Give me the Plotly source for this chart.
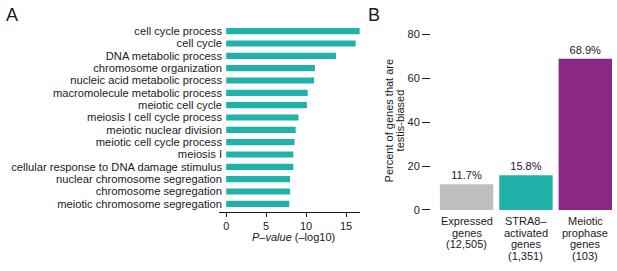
import plotly.graph_objects as go

# Panel A data
go_terms = ["cell cycle process", "cell cycle", "DNA metabolic process", "chromosome organization",
            "nucleic acid metabolic process", "macromolecule metabolic process", "meiotic cell cycle",
            "meiosis I cell cycle process", "meiotic nuclear division", "meiotic cell cycle process",
            "meiosis I", "cellular response to DNA damage stimulus", "nuclear chromosome segregation",
            "chromosome segregation", "meiotic chromosome segregation"]
neg_log_p = [16.7, 16.2, 13.75, 11.1, 11.0, 10.2, 10.1, 9.05, 8.7, 8.55, 8.4, 8.4, 8.0, 8.0, 7.9]
a_ticks = [0, 5, 10, 15]

# Panel B data
gene_sets = ["Expressed", "STRA8", "Meiotic"]
gene_set_labels = [["Expressed", "genes", "(12,505)"],
                   ["STRA8\u2013", "activated", "genes", "(1,351)"],
                   ["Meiotic", "prophase", "genes", "(103)"]]
pct_testis = [11.7, 15.8, 68.9]
b_ticks = [0, 20, 40, 60, 80]

TEAL = "#20B2A8"
bar_colors = ["#BEBEBE", TEAL, "#8A2886"]
FONT = "Liberation Sans, Arial, sans-serif"
TXT = "#1a1a1a"
W, H = 617, 271

fig = go.Figure()
fig.add_trace(go.Bar(x=neg_log_p, y=go_terms, orientation="h", marker_color=TEAL,
                     marker_line_width=0, xaxis="x", yaxis="y", width=0.5, showlegend=False))
fig.add_trace(go.Bar(x=gene_sets, y=pct_testis, marker_color=bar_colors, marker_line_width=0,
                     xaxis="x2", yaxis="y2", width=0.9, showlegend=False,
                     text=[f"{v}%" for v in pct_testis], textposition="outside",
                     textfont=dict(size=11, color=TXT, family=FONT), cliponaxis=False))

ann = []
ann.append(dict(text="A", x=4 / W, y=1 - 13 / H, xref="paper", yref="paper", xanchor="left",
                yanchor="middle", showarrow=False, font=dict(size=18, family=FONT, color=TXT)))
ann.append(dict(text="B", x=366 / W, y=1 - 13 / H, xref="paper", yref="paper", xanchor="left",
                yanchor="middle", showarrow=False, font=dict(size=18, family=FONT, color=TXT)))
ann.append(dict(text="<i>P\u2013value</i> (\u2013log10)", x=293 / W, y=1 - 242 / H, xref="paper",
                yref="paper", xanchor="center", yanchor="middle", showarrow=False,
                font=dict(size=11, family=FONT, color=TXT)))
ann.append(dict(text="Percent of genes that are", x=389 / W, y=1 - 122 / H, xref="paper",
                yref="paper", xanchor="center", yanchor="middle", showarrow=False, textangle=-90,
                font=dict(size=11, family=FONT, color=TXT)))
ann.append(dict(text="testis-biased", x=400 / W, y=1 - 122 / H, xref="paper",
                yref="paper", xanchor="center", yanchor="middle", showarrow=False, textangle=-90,
                font=dict(size=11, family=FONT, color=TXT)))
for cat, lines in zip(gene_sets, gene_set_labels):
    for j, line in enumerate(lines):
        ann.append(dict(text=line, x=cat, y=0, xref="x2", yref="y2", xanchor="center",
                        yanchor="middle", yshift=-(11 + j * 11.7), showarrow=False,
                        font=dict(size=11, family=FONT, color=TXT)))

fig.update_layout(
    width=W, height=H, margin=dict(l=0, r=0, t=0, b=0),
    paper_bgcolor="white", plot_bgcolor="white",
    font=dict(family=FONT, size=11, color=TXT),
    xaxis=dict(domain=[219 / W, 360 / W], range=[-0.9, 16.75], tickvals=a_ticks,
               ticks="outside", ticklen=4, tickcolor=TXT, showline=True, linecolor=TXT,
               linewidth=1, showgrid=False, zeroline=False, anchor="y",
               tickfont=dict(size=11)),
    yaxis=dict(domain=[1 - 216 / H, 1 - 22 / H], range=[14.63, -0.63], showgrid=False,
               zeroline=False, showline=False, ticks="", anchor="x",
               tickmode="array", tickvals=go_terms, ticktext=go_terms,
               ticklabelstandoff=-4, tickfont=dict(size=11.2)),
    xaxis2=dict(domain=[431 / W, 612 / W], range=[-0.6, 2.45], showticklabels=False,
                showgrid=False, zeroline=False, showline=False, ticks="", anchor="y2"),
    yaxis2=dict(domain=[1 - 214.3 / H, 1 - 28.8 / H], range=[0, 82], tickvals=b_ticks,
                ticks="outside", ticklen=8, tickcolor=TXT, showline=False, showgrid=False,
                zeroline=False, anchor="x2", tickfont=dict(size=11)),
    annotations=ann, bargap=0.1,
)
fig.write_html("out.html", config={"displayModeBar": False},
               post_script="document.body.style.margin='0';")
